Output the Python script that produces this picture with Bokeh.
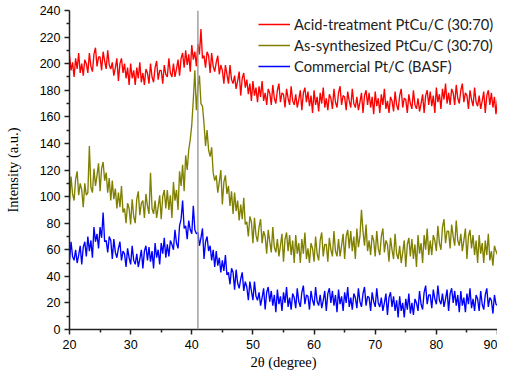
import numpy as np
from bokeh.plotting import figure
from bokeh.models import Span, FixedTicker, Legend, LegendItem, Range1d
from bokeh.embed import file_html
from bokeh.resources import INLINE

# 2-theta grid (0.25 degree steps from 20 to 90)
two_theta = 20 + 0.25 * np.arange(281)

acid_treated = [
    206, 195, 201, 190, 204, 196, 208, 193, 200, 191, 203, 200, 193, 208, 198, 194,
    207, 212, 198, 205, 205, 195, 209, 202, 196, 210, 199, 196, 201, 191, 197, 204,
    187, 200, 204, 193, 200, 189, 197, 184, 200, 189, 195, 184, 197, 189, 201, 186,
    193, 184, 196, 193, 185, 200, 190, 186, 197, 202, 188, 195, 195, 185, 199, 192,
    190, 204, 193, 190, 200, 190, 196, 203, 191, 204, 208, 197, 210, 199, 207, 194,
    214, 203, 209, 198, 215, 207, 226, 204, 206, 197, 209, 206, 193, 208, 198, 194,
    201, 206, 192, 199, 195, 185, 199, 192, 185, 199, 188, 185, 191, 181, 187, 194,
    176, 189, 193, 182, 188, 177, 185, 172, 187, 176, 182, 171, 183, 175, 187, 172,
    178, 169, 181, 178, 169, 184, 174, 170, 180, 185, 171, 178, 177, 167, 181, 174,
    169, 183, 172, 169, 177, 167, 173, 180, 165, 178, 182, 171, 179, 168, 176, 163,
    180, 169, 175, 164, 178, 170, 182, 167, 174, 165, 177, 174, 166, 181, 171, 167,
    178, 183, 169, 176, 175, 165, 179, 172, 167, 181, 170, 167, 175, 165, 171, 178,
    163, 176, 180, 169, 178, 167, 175, 162, 179, 168, 174, 163, 177, 169, 181, 166,
    172, 163, 175, 172, 164, 179, 169, 165, 176, 181, 167, 174, 173, 163, 177, 170,
    166, 180, 169, 166, 174, 164, 170, 177, 163, 176, 180, 169, 179, 168, 176, 163,
    182, 171, 177, 166, 181, 173, 185, 170, 178, 169, 181, 178, 169, 184, 174, 170,
    180, 185, 171, 178, 176, 166, 180, 173, 168, 182, 171, 168, 176, 166, 172, 179,
    163, 176, 180, 169, 178, 167, 175, 162, 173,
]

as_synthesized = [
    96, 115, 102, 97, 113, 119, 101, 110, 105, 92, 110, 101, 103, 138, 107, 103,
    121, 108, 116, 125, 104, 121, 126, 112, 118, 103, 114, 97, 112, 98, 106, 91,
    103, 92, 108, 88, 91, 80, 95, 91, 79, 98, 85, 80, 98, 104, 86, 95,
    97, 84, 102, 93, 87, 118, 91, 87, 97, 84, 92, 101, 83, 100, 105, 91,
    105, 90, 101, 84, 111, 97, 105, 90, 119, 108, 124, 104, 131, 120, 135, 143,
    154, 173, 195, 165, 182, 191, 170, 168, 155, 138, 150, 135, 130, 137, 118, 112,
    116, 103, 111, 120, 94, 111, 116, 102, 108, 93, 104, 87, 103, 89, 97, 82,
    94, 83, 99, 79, 81, 70, 85, 81, 65, 84, 71, 66, 77, 83, 65, 74,
    70, 57, 75, 66, 58, 77, 62, 58, 68, 55, 63, 72, 51, 68, 73, 59,
    71, 56, 67, 50, 71, 57, 65, 50, 68, 57, 73, 53, 61, 50, 65, 61,
    51, 70, 57, 52, 67, 73, 55, 64, 64, 51, 69, 60, 55, 74, 59, 55,
    68, 55, 63, 72, 53, 70, 75, 61, 74, 59, 70, 53, 76, 62, 70, 90,
    74, 63, 79, 59, 67, 56, 71, 67, 55, 74, 61, 56, 70, 76, 58, 67,
    64, 51, 69, 60, 53, 72, 57, 53, 63, 50, 58, 67, 47, 64, 69, 55,
    68, 53, 64, 47, 71, 57, 65, 50, 71, 60, 76, 56, 67, 56, 71, 67,
    59, 78, 65, 60, 77, 83, 65, 74, 74, 61, 79, 70, 63, 82, 67, 63,
    72, 59, 67, 76, 53, 70, 75, 61, 71, 56, 67, 50, 71, 57, 65, 50,
    67, 56, 72, 52, 59, 48, 63, 59, 56,
]

commercial = [
    52, 66, 55, 52, 60, 50, 56, 63, 49, 62, 66, 55, 70, 59, 67, 54,
    77, 66, 72, 61, 77, 69, 88, 66, 67, 58, 70, 67, 53, 68, 58, 54,
    61, 66, 52, 59, 57, 47, 61, 54, 49, 63, 52, 49, 57, 47, 53, 60,
    46, 59, 63, 52, 62, 51, 59, 46, 65, 54, 60, 49, 65, 57, 69, 54,
    64, 55, 67, 64, 60, 75, 65, 61, 78, 83, 97, 76, 78, 68, 82, 75,
    72, 93, 75, 72, 73, 63, 69, 76, 53, 66, 70, 59, 63, 52, 60, 47,
    59, 48, 54, 43, 52, 44, 56, 41, 43, 34, 46, 43, 30, 45, 35, 31,
    38, 43, 29, 36, 32, 22, 36, 29, 22, 36, 25, 22, 28, 18, 24, 31,
    15, 28, 32, 21, 29, 18, 26, 13, 30, 19, 25, 14, 28, 20, 32, 17,
    24, 15, 27, 24, 16, 31, 21, 17, 28, 33, 19, 26, 25, 15, 29, 22,
    18, 32, 21, 18, 26, 16, 22, 29, 14, 27, 31, 20, 29, 18, 26, 13,
    30, 19, 25, 14, 28, 20, 32, 17, 24, 15, 27, 24, 16, 31, 21, 17,
    27, 32, 18, 25, 24, 14, 28, 21, 17, 31, 20, 17, 24, 14, 20, 27,
    11, 24, 28, 17, 25, 14, 22, 9, 25, 14, 20, 9, 23, 15, 27, 12,
    20, 11, 23, 20, 14, 29, 19, 15, 28, 33, 19, 26, 26, 16, 30, 23,
    19, 33, 22, 19, 27, 17, 23, 30, 14, 27, 31, 20, 29, 18, 26, 13,
    29, 18, 24, 13, 27, 19, 31, 16, 23, 14, 26, 23, 14, 29, 19, 15,
    26, 31, 17, 24, 22, 12, 26, 19, 18,
]

series_names = ["Acid-treatment PtCu/C (30:70)", "As-synthesized PtCu/C (30:70)", "Commercial Pt/C (BASF)"]
series_colors = ["#ff0000", "#808000", "#0000ff"]
peak_position = 41.0

x_ticks = [20, 30, 40, 50, 60, 70, 80, 90]
x_minor = [25, 35, 45, 55, 65, 75, 85]
y_ticks = list(range(0, 241, 20))
y_minor = list(range(10, 240, 20))

p = figure(width=497, height=377, output_backend="svg", toolbar_location=None,
           x_range=Range1d(20, 90), y_range=Range1d(0, 240),
           min_border_left=69, min_border_right=0, min_border_top=10, min_border_bottom=48)
p.outline_line_color = None
p.xgrid.visible = False
p.ygrid.visible = False
p.background_fill_color = "white"

renderers = []
for ys, c in zip([acid_treated, as_synthesized, commercial], series_colors):
    r = p.line(two_theta, ys, line_color=c, line_width=1.35)
    renderers.append(r)

p.add_layout(Span(location=peak_position, dimension="height", line_color="#999999", line_width=1.4))

legend_items = [LegendItem(label=n, renderers=[r]) for n, r in zip(series_names, renderers)]

legend = Legend(items=legend_items, location=(189, 253))
legend.border_line_color = None
legend.background_fill_alpha = 0
legend.label_text_font = "Lato"
legend.label_text_font_size = "14.7px"
legend.label_text_color = "#222222"
legend.glyph_width = 32
legend.glyph_height = 20
legend.label_height = 20
legend.spacing = 1
legend.label_standoff = 4
legend.padding = 0
legend.margin = 0
p.add_layout(legend)

for ax in (p.xaxis[0], p.yaxis[0]):
    ax.axis_line_color = "#222222"
    ax.axis_line_width = 1.5
    ax.major_tick_line_color = "#222222"
    ax.minor_tick_line_color = "#222222"
    ax.major_tick_line_width = 1.5
    ax.minor_tick_line_width = 1.5
    ax.major_tick_out = 5
    ax.major_tick_in = 0
    ax.minor_tick_out = 3
    ax.minor_tick_in = 0
    ax.major_label_text_font = "Liberation Sans"
    ax.major_label_text_font_size = "12.5px"
    ax.major_label_text_color = "#000000"
    ax.axis_label_text_font = "Liberation Serif"
    ax.axis_label_text_font_style = "normal"
    ax.axis_label_text_font_size = "14.5px"
    ax.axis_label_text_color = "#000000"

p.xaxis[0].ticker = FixedTicker(ticks=x_ticks, minor_ticks=x_minor)
p.yaxis[0].ticker = FixedTicker(ticks=y_ticks, minor_ticks=y_minor)
p.xaxis[0].axis_label = "2θ (degree)"
p.yaxis[0].axis_label = "Intensity (a.u.)"
p.xaxis[0].major_label_standoff = 5
p.xaxis[0].axis_label_standoff = 2
p.yaxis[0].major_label_standoff = 4
p.yaxis[0].axis_label_standoff = 16

open("out.html", "w").write(file_html(p, INLINE))
